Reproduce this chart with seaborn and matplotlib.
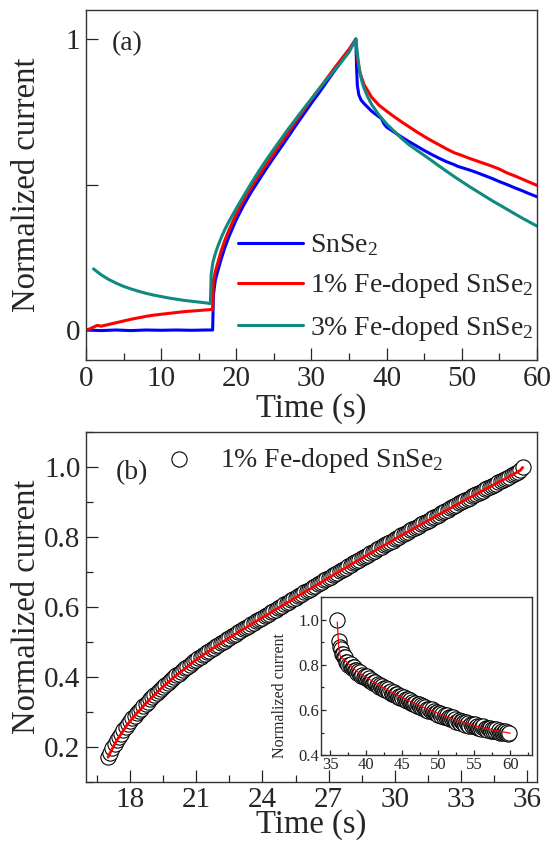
import matplotlib
matplotlib.use('Agg')
import matplotlib.pyplot as plt
from matplotlib.ticker import MultipleLocator, FormatStrFormatter
import numpy as np
import seaborn as sns

# ---------------- panel (a): one on/off cycle, normalized ----------------
t_snse2 = [0, 2, 4, 6, 8, 10, 12, 14, 16,
           16.85, 16.95, 17.2, 17.5, 18, 18.5, 19,
           20, 21, 22, 23, 24, 25, 26, 27, 28, 29, 30, 31, 32, 33, 34, 35,
           35.9, 36.0, 36.1, 36.3, 36.6,
           37, 37.5, 38, 38.5, 39, 39.3, 39.6,
           40, 41, 42, 43, 44, 45, 46, 47, 48, 49, 49.5,
           50, 51, 52, 53, 54, 55, 56, 57, 58, 59, 60]
i_snse2 = [0.0, -0.002, 0.0, -0.002, 0.0, -0.001, 0.0, -0.001, 0.0,
           0.0, 0.12, 0.17, 0.2, 0.245, 0.285, 0.32,
           0.38, 0.43, 0.475, 0.515, 0.555, 0.593, 0.630, 0.668, 0.706, 0.743, 0.78, 0.815, 0.852, 0.888, 0.924, 0.96,
           1.0, 0.9, 0.84, 0.808, 0.79,
           0.778, 0.765, 0.752, 0.742, 0.732, 0.727, 0.71,
           0.697, 0.68, 0.663, 0.647, 0.632, 0.617, 0.603, 0.59, 0.578, 0.568, 0.562,
           0.558, 0.55, 0.541, 0.531, 0.521, 0.51, 0.5, 0.489, 0.479, 0.468, 0.458]

t_fe1 = [0, 0.5, 1, 1.5, 2,
         3, 4, 5, 6, 7, 8, 9, 10, 11, 12, 13, 14, 15, 16,
         16.85, 16.95, 17.2, 17.5, 18, 18.5, 19,
         20, 21, 22, 23, 24, 25, 26, 27, 28, 29, 30, 31, 32, 33, 34, 35,
         35.9, 36.1, 36.5,
         37, 38, 39, 40, 41, 42, 43, 44, 45, 46, 47, 48,
         49, 50, 51, 52, 53, 54, 55, 56, 57, 58, 59, 60]
i_fe1 = [0.0, 0.004, 0.01, 0.016, 0.013,
         0.019, 0.025, 0.031, 0.037, 0.042, 0.047, 0.051, 0.054, 0.057, 0.06, 0.063, 0.065, 0.067, 0.069,
         0.071, 0.17, 0.2, 0.228, 0.273, 0.31, 0.342,
         0.399, 0.449, 0.491, 0.531, 0.569, 0.607, 0.645, 0.682, 0.72, 0.756, 0.793, 0.828, 0.863, 0.898, 0.932, 0.965,
         1.0, 0.93, 0.88,
         0.843, 0.80, 0.772, 0.752, 0.733, 0.715, 0.698, 0.681, 0.665, 0.65, 0.636, 0.622,
         0.609, 0.600, 0.590, 0.581, 0.572, 0.563, 0.553, 0.540, 0.530, 0.519, 0.508, 0.497]

t_fe3 = [1, 2, 3, 4, 5, 6, 7, 8, 9, 10, 11, 12, 13, 14, 15, 16,
         16.55, 16.65, 16.9, 17.2, 17.5, 18, 18.5, 19,
         20, 21, 22, 23, 24, 25, 26, 27, 28, 29, 30, 31, 32, 33, 34, 35,
         35.9, 36.1, 36.4, 36.7, 37, 37.5, 38,
         39, 40, 41, 42, 43, 44, 45, 46, 47, 48, 49,
         50, 51, 52, 53, 54, 55, 56, 57, 58, 59, 60]
i_fe3 = [0.21, 0.19, 0.174, 0.161, 0.15, 0.141, 0.133, 0.126, 0.12, 0.115, 0.11, 0.106, 0.102, 0.099, 0.096, 0.093,
         0.091, 0.19, 0.235, 0.262, 0.285, 0.318, 0.347, 0.372,
         0.418, 0.462, 0.505, 0.546, 0.585, 0.622, 0.658, 0.694, 0.728, 0.762, 0.795, 0.828, 0.86, 0.891, 0.922, 0.955,
         1.0, 0.95, 0.89, 0.855, 0.83, 0.80, 0.775,
         0.738, 0.708, 0.683, 0.658, 0.636, 0.618, 0.600, 0.582, 0.563, 0.545, 0.527,
         0.510, 0.493, 0.477, 0.461, 0.445, 0.43, 0.415, 0.40, 0.385, 0.371, 0.357]

# ---------------- panel (b): rise of the 1% Fe-doped sample ----------------
t_rise = np.round(np.arange(17.0, 35.85, 0.1), 1)   # sampled every 0.1 s
i_rise = [0.170, 0.183, 0.195, 0.207, 0.218, 0.228, 0.237, 0.247, 0.256, 0.265,
          0.273, 0.281, 0.288, 0.296, 0.302, 0.309, 0.316, 0.323, 0.329, 0.336,
          0.342, 0.348, 0.354, 0.360, 0.366, 0.372, 0.377, 0.383, 0.388, 0.394,
          0.399, 0.404, 0.409, 0.414, 0.419, 0.424, 0.429, 0.434, 0.439, 0.444,
          0.449, 0.453, 0.457, 0.462, 0.466, 0.470, 0.474, 0.479, 0.483, 0.487,
          0.491, 0.495, 0.499, 0.503, 0.507, 0.511, 0.515, 0.519, 0.523, 0.527,
          0.531, 0.535, 0.538, 0.542, 0.546, 0.550, 0.554, 0.558, 0.561, 0.565,
          0.569, 0.573, 0.576, 0.580, 0.584, 0.588, 0.592, 0.596, 0.599, 0.603,
          0.607, 0.611, 0.614, 0.618, 0.622, 0.626, 0.630, 0.634, 0.637, 0.641,
          0.645, 0.649, 0.652, 0.656, 0.660, 0.664, 0.667, 0.671, 0.675, 0.679,
          0.682, 0.686, 0.690, 0.694, 0.697, 0.701, 0.705, 0.709, 0.712, 0.716,
          0.720, 0.724, 0.727, 0.731, 0.734, 0.738, 0.742, 0.746, 0.749, 0.753,
          0.756, 0.760, 0.764, 0.768, 0.771, 0.775, 0.778, 0.782, 0.785, 0.789,
          0.793, 0.797, 0.800, 0.804, 0.807, 0.811, 0.814, 0.818, 0.821, 0.825,
          0.828, 0.832, 0.835, 0.839, 0.842, 0.846, 0.849, 0.853, 0.856, 0.860,
          0.863, 0.867, 0.870, 0.874, 0.877, 0.881, 0.884, 0.888, 0.891, 0.895,
          0.898, 0.902, 0.905, 0.909, 0.912, 0.915, 0.918, 0.922, 0.925, 0.929,
          0.932, 0.936, 0.939, 0.942, 0.945, 0.949, 0.952, 0.956, 0.959, 0.962,
          0.965, 0.969, 0.972, 0.976, 0.979, 0.983, 0.986, 0.990, 0.998]

# inset: decay of the same sample, sampled every 0.15 s (points scatter a little)
t_decay = [36.0] + list(np.round(np.linspace(36.2, 59.9, 159), 2))
i_decay = [1.0,
           0.906, 0.880, 0.872, 0.850, 0.849, 0.833, 0.833, 0.815, 0.815, 0.801,
           0.799, 0.802, 0.786, 0.790, 0.790, 0.776, 0.779, 0.765, 0.773, 0.762,
           0.767, 0.753, 0.757, 0.745, 0.753, 0.744, 0.750, 0.736, 0.740, 0.728,
           0.728, 0.733, 0.719, 0.724, 0.725, 0.712, 0.717, 0.704, 0.713, 0.703,
           0.708, 0.695, 0.699, 0.687, 0.696, 0.687, 0.693, 0.679, 0.684, 0.672,
           0.673, 0.678, 0.665, 0.670, 0.672, 0.659, 0.664, 0.652, 0.662, 0.652,
           0.658, 0.644, 0.649, 0.638, 0.647, 0.638, 0.645, 0.632, 0.637, 0.625,
           0.626, 0.632, 0.619, 0.625, 0.627, 0.615, 0.620, 0.607, 0.617, 0.608,
           0.614, 0.601, 0.606, 0.595, 0.604, 0.596, 0.604, 0.591, 0.596, 0.585,
           0.586, 0.592, 0.579, 0.585, 0.587, 0.575, 0.581, 0.569, 0.579, 0.570,
           0.577, 0.564, 0.569, 0.558, 0.568, 0.560, 0.567, 0.554, 0.560, 0.549,
           0.550, 0.556, 0.544, 0.550, 0.553, 0.541, 0.547, 0.535, 0.546, 0.537,
           0.544, 0.531, 0.537, 0.527, 0.537, 0.529, 0.537, 0.525, 0.531, 0.520,
           0.522, 0.529, 0.517, 0.524, 0.527, 0.516, 0.522, 0.511, 0.522, 0.514,
           0.521, 0.509, 0.515, 0.505, 0.515, 0.508, 0.516, 0.504, 0.512, 0.500,
           0.502, 0.509, 0.497, 0.504, 0.507, 0.496, 0.503, 0.492, 0.498]
t_decay_fit = [36.0, 36.2, 36.4, 36.7, 37.0, 38, 39, 40, 42, 44, 46, 48, 50, 52, 54, 56, 58, 60]
i_decay_fit = [0.99, 0.88, 0.84, 0.83, 0.823, 0.79, 0.765, 0.745, 0.706, 0.671, 0.640, 0.611, 0.585,
               0.561, 0.540, 0.523, 0.509, 0.497]

SERIES_A = [('SnSe$_2$', t_snse2, i_snse2, '#0000ff'),
            ('1% Fe-doped SnSe$_2$', t_fe1, i_fe1, '#ff0000'),
            ('3% Fe-doped SnSe$_2$', t_fe3, i_fe3, '#0e8a80')]


def style_axis(ax, major_len, minor_len, labelsize):
    """ROOT-like inward ticks on the bottom/left only."""
    ax.tick_params(which='both', direction='in', width=0.9, color='0.15',
                   top=False, right=False)
    ax.tick_params(which='major', length=major_len, labelsize=labelsize, pad=4)
    ax.tick_params(which='minor', length=minor_len)
    for sp in ax.spines.values():
        sp.set_linewidth(1.0)
        sp.set_color('0.2')


def main():
    sns.set_theme(style='ticks')
    plt.rcParams['font.family'] = ['Liberation Serif', 'DejaVu Serif']
    plt.rcParams['mathtext.fontset'] = 'custom'
    plt.rcParams['mathtext.rm'] = 'Liberation Serif'
    plt.rcParams['mathtext.default'] = 'regular'
    plt.rcParams['axes.facecolor'] = 'white'

    fig = plt.figure(figsize=(5.52, 8.47), dpi=100)
    ax_a = fig.add_axes([0.1558, 0.575, 0.817, 0.4132])
    ax_b = fig.add_axes([0.1558, 0.0771, 0.817, 0.4132])

    # ---- (a) ----
    for label, t, cur, col in SERIES_A:
        sns.lineplot(x=t, y=cur, ax=ax_a, color=col, linewidth=2.2, label=label,
                     estimator=None, sort=False)
    ax_a.set_xlim(0, 60)
    ax_a.set_ylim(-0.103, 1.0997)
    ax_a.xaxis.set_major_locator(MultipleLocator(10))
    ax_a.xaxis.set_minor_locator(MultipleLocator(5))
    ax_a.set_yticks([0, 0.5, 1])
    ax_a.set_yticklabels(['0', '', '1'])
    style_axis(ax_a, 8.4, 4.8, 21)
    ax_a.set_xlabel('Time (s)', fontsize=23.5)
    ax_a.set_ylabel('Normalized current', fontsize=23.5)
    ax_a.xaxis.set_label_coords(0.5, -0.095)
    ax_a.yaxis.set_label_coords(-0.098, 0.5)
    ax_a.text(0.058, 0.905, '(a)', transform=ax_a.transAxes, fontsize=20, va='center')
    ax_a.legend(loc='center left', bbox_to_anchor=(0.3377, 0.207), frameon=False,
                fontsize=20, handlelength=2.34, handletextpad=0.25, labelspacing=0.47,
                borderpad=0, borderaxespad=0)

    # ---- (b) ----
    sns.scatterplot(x=t_rise, y=i_rise, ax=ax_b, s=120, color='white', edgecolor='black',
                    linewidth=0.8, marker='o', label='1% Fe-doped SnSe$_2$')
    sns.lineplot(x=t_rise, y=i_rise, ax=ax_b, color='#ff0000', linewidth=2.0,
                 estimator=None, sort=False)
    ax_b.set_xlim(16, 36.45)
    ax_b.set_ylim(0.1, 1.1)
    ax_b.xaxis.set_major_locator(MultipleLocator(3))
    ax_b.xaxis.set_minor_locator(MultipleLocator(1.5))
    ax_b.yaxis.set_major_locator(MultipleLocator(0.2))
    ax_b.yaxis.set_minor_locator(MultipleLocator(0.1))
    ax_b.yaxis.set_major_formatter(FormatStrFormatter('%.1f'))
    style_axis(ax_b, 8.4, 4.8, 21)
    ax_b.set_xlabel('Time (s)', fontsize=23.5)
    ax_b.set_ylabel('Normalized current', fontsize=23.5)
    ax_b.xaxis.set_label_coords(0.5, -0.08)
    ax_b.yaxis.set_label_coords(-0.098, 0.5)
    ax_b.text(0.066, 0.883, '(b)', transform=ax_b.transAxes, fontsize=20, va='center')
    ax_b.legend(loc='center left', bbox_to_anchor=(0.1765, 0.919), frameon=False,
                fontsize=20, handlelength=1.0, handletextpad=0.95,
                borderpad=0, borderaxespad=0)

    # ---- inset: decay ----
    ax_in = ax_b.inset_axes([0.522, 0.076, 0.468, 0.451])
    ax_in.set_facecolor('white')
    sns.scatterplot(x=t_decay, y=i_decay, ax=ax_in, s=120, color='white', edgecolor='black',
                    linewidth=0.8, marker='o', legend=False)
    sns.lineplot(x=t_decay_fit, y=i_decay_fit, ax=ax_in, color='#ff0000', linewidth=0.9,
                 estimator=None, sort=False)
    ax_in.set_xlim(33.8, 63.1)
    ax_in.set_ylim(0.4, 1.1)
    ax_in.xaxis.set_major_locator(MultipleLocator(5))
    ax_in.xaxis.set_minor_locator(MultipleLocator(2.5))
    ax_in.yaxis.set_major_locator(MultipleLocator(0.2))
    ax_in.yaxis.set_minor_locator(MultipleLocator(0.1))
    ax_in.yaxis.set_major_formatter(FormatStrFormatter('%.1f'))
    style_axis(ax_in, 3.6, 2.2, 12)
    ax_in.tick_params(which='major', pad=1.5)
    ax_in.set_ylabel('Normalized current', fontsize=11.5)
    ax_in.yaxis.set_label_coords(-0.16, 0.38)
    ax_in.set_xlabel('')

    fig.savefig('out.png', dpi=100, facecolor='white')


if __name__ == '__main__':
    main()
